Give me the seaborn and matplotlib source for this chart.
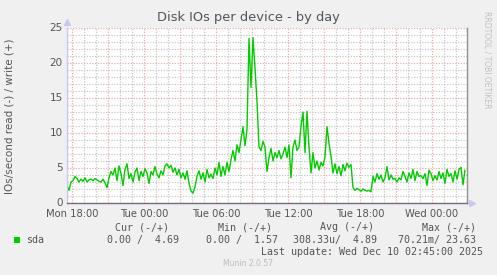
import numpy as np
import pandas as pd
import matplotlib
matplotlib.use("Agg")
import matplotlib.pyplot as plt
import seaborn as sns
from matplotlib.ticker import MultipleLocator

# ---- data ----
start_hour = 17 + 35 / 60.0       # Mon 17:35 (hours since Mon 00:00)
step_minutes = 10
ios_write = [
    2.5, 1.8, 3.0, 3.2, 3.8, 3.5, 3.0, 3.4, 3.1, 3.6, 3.0, 3.3, 3.4, 3.2, 3.5, 3.3, 3.1, 3.0, 3.4, 2.9,
    2.2, 3.6, 4.5, 4.0, 5.0, 3.2, 5.3, 4.2, 2.5, 4.8, 5.6, 3.5, 4.2, 3.0, 4.4, 5.0, 3.2, 4.5, 3.8, 4.9,
    4.3, 2.8, 4.5, 4.0, 5.2, 4.1, 3.6, 4.6, 4.0, 5.3, 5.6, 5.0, 5.4, 4.4, 5.0, 4.0, 4.8, 3.6, 4.3, 3.4,
    4.6, 2.8, 1.7, 1.4, 2.3, 3.8, 4.6, 3.4, 4.3, 3.0, 4.8, 3.6, 4.1, 3.5, 5.0, 4.0, 5.8, 3.8, 5.2, 4.0,
    5.8, 4.5, 6.2, 7.5, 6.0, 8.3, 7.2, 9.0, 10.9, 8.2, 10.5, 23.5, 16.5, 23.6, 19.3, 14.5, 8.0, 7.5, 8.8, 8.0,
    4.5, 6.5, 7.8, 6.0, 7.2, 6.5, 7.5, 6.3, 7.0, 8.0, 6.5, 8.3, 3.6, 8.0, 9.0, 7.5, 8.0, 11.0, 13.0, 7.2,
    13.1, 8.0, 4.3, 7.2, 5.0, 6.0, 4.7, 5.8, 5.3, 6.6, 10.9, 8.5, 6.7, 4.3, 5.6, 4.2, 5.2, 3.9, 5.5, 4.6,
    5.7, 5.1, 5.5, 2.2, 1.8, 2.1, 1.9, 1.7, 2.0, 1.8, 1.7, 1.8, 1.6, 3.8, 3.0, 4.2, 3.4, 4.0, 3.0, 3.6,
    5.2, 3.3, 4.0, 3.4, 3.5, 3.0, 3.6, 3.3, 4.5, 3.8, 3.0, 4.3, 3.5, 4.8, 3.2, 4.5, 3.8, 3.9, 3.5, 4.2,
    2.5, 4.7, 4.2, 3.2, 3.9, 3.3, 4.5, 3.5, 4.3, 2.8, 4.8, 3.8, 4.2, 3.0, 4.6, 3.4, 4.8, 5.1, 2.6, 4.7,
]
tick_hours = [18, 24, 30, 36, 42, 48]
tick_labels = ["Mon 18:00", "Tue 00:00", "Tue 06:00", "Tue 12:00", "Tue 18:00", "Wed 00:00"]
y_ticks = [0, 5, 10, 15, 20, 25]
legend_name = "sda"
stat_headers = ["Cur (-/+)", "Min (-/+)", "Avg (-/+)", "Max (-/+)"]
stat_values = ["0.00 /  4.69", "0.00 /  1.57", "308.33u/  4.89", "70.21m/ 23.63"]
title = "Disk IOs per device - by day"
ylabel = "IOs/second read (-) / write (+)"
last_update = "Last update: Wed Dec 10 02:45:00 2025"
footer = "Munin 2.0.57"
side_text = "RRDTOOL / TOBI OETIKER"

hours = start_hour + np.arange(len(ios_write)) * step_minutes / 60.0
df = pd.DataFrame({"hour": hours, "ios": ios_write})

# ---- figure ----
sns.set_style("white")
plt.rcParams["font.family"] = ["DejaVu Sans"]
W, H = 497, 275
fig = plt.figure(figsize=(W / 100, H / 100), dpi=100, facecolor="#F0F0F0")
L, R, T, B = 67, 467, 28, 203
ax = fig.add_axes([L / W, 1 - B / H, (R - L) / W, (B - T) / H])
ax.set_facecolor("white")

x0 = start_hour
x1 = start_hour + (R - L) / 12.0
ax.set_xlim(x0, x1)
ax.set_ylim(0, 25)

# grid
minor_c = "#C8C8C8"
major_c = "#F0A8A8"
ax.xaxis.set_minor_locator(MultipleLocator(1))
ax.xaxis.set_major_locator(MultipleLocator(3))
ax.yaxis.set_minor_locator(MultipleLocator(1))
ax.yaxis.set_major_locator(MultipleLocator(5))
ax.grid(which="minor", color=minor_c, linestyle=(0, (1, 1.2)), linewidth=0.9)
ax.grid(which="major", color=major_c, linestyle=(0, (1, 1.2)), linewidth=0.9)
ax.set_axisbelow(True)
ax.tick_params(which="both", length=0, labelbottom=False, labelleft=False)

sns.lineplot(data=df, x="hour", y="ios", ax=ax, color="#00CC00", linewidth=1.0)
ax.set_xlabel("")
ax.set_ylabel("")

# spines
ax.spines["top"].set_visible(False)
ax.spines["left"].set_color("#C8C8F0")
ax.spines["left"].set_linewidth(1.0)
ax.spines["bottom"].set_color("#707080")
ax.spines["bottom"].set_linewidth(1.0)
ax.spines["right"].set_color("#909090")
ax.spines["right"].set_linewidth(1.0)

# arrows
ax.plot([0], [1.035], marker="^", color="#C8C8F0", ms=5, transform=ax.transAxes, clip_on=False)
ax.plot([1.012], [0], marker=">", color="#C8C8F0", ms=5, transform=ax.transAxes, clip_on=False)

# tick labels
tc = "#555555"
for h, lab in zip(tick_hours, tick_labels):
    ax.text(h, -0.9, lab, ha="center", va="top", fontsize=7.2, color=tc)
for v in y_ticks:
    ax.text(x0 - 0.35, v, str(v), ha="right", va="center", fontsize=7.5, color=tc)

fig.text(248 / W, 1 - 18 / H, title, ha="center", va="center", fontsize=9.4, color="#555555")
fig.text(10 / W, 1 - 116 / H, ylabel, ha="center", va="center", rotation=90, fontsize=7.5, color="#555555")
fig.text(487 / W, 1 - 60 / H, side_text, ha="center", va="center", rotation=270, fontsize=5.5, color="#C0C0C0")

mono = "DejaVu Sans Mono"
fs = 7.2
head_right = [169, 272, 374, 476]
for x, t in zip(head_right, stat_headers):
    fig.text(x / W, 1 - 227 / H, t, ha="right", va="center", fontsize=fs, family=mono, color="#555555")
val_right = [179, 278, 377, 476]
for x, t in zip(val_right, stat_values):
    fig.text(x / W, 1 - 240 / H, t, ha="right", va="center", fontsize=fs, family=mono, color="#555555")
fig.patches.append(plt.Rectangle((14 / W, 1 - 243 / H), 6 / W, 6 / H, transform=fig.transFigure,
                                 facecolor="#00CC00", edgecolor="none"))
fig.text(26 / W, 1 - 240 / H, legend_name, ha="left", va="center", fontsize=fs, family=mono, color="#555555")
fig.text(483 / W, 1 - 252 / H, last_update, ha="right", va="center", fontsize=fs, family=mono, color="#555555")
fig.text(248 / W, 1 - 264 / H, footer, ha="center", va="center", fontsize=5.5, color="#BBBBBB")

fig.savefig("out.png", dpi=100, facecolor=fig.get_facecolor())
